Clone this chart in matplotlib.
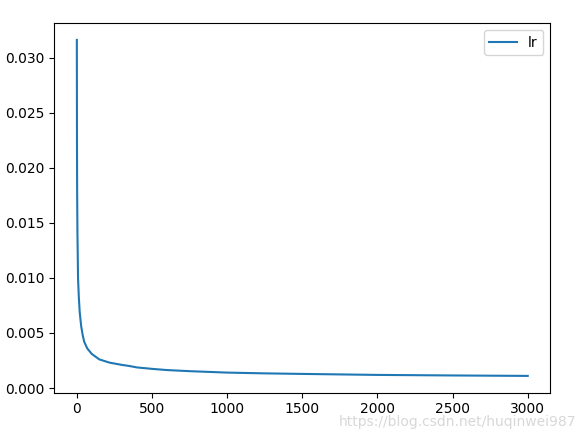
import matplotlib
matplotlib.use('Agg')
import matplotlib.pyplot as plt

# learning rate values (step, lr)
steps = [1, 2, 3, 5, 9, 14, 20, 30, 40, 50, 70, 100, 120, 150, 180, 220, 260, 300, 350,
         400, 500, 600, 750, 1000, 1250, 1500, 2000, 2500, 3000]
lr = [0.0316, 0.0224, 0.0180, 0.0141, 0.0100, 0.0083, 0.0069, 0.0056, 0.0048, 0.0042,
      0.0036, 0.0031, 0.0029, 0.0026, 0.00247, 0.0023, 0.0022, 0.0021, 0.0020,
      0.00187, 0.00174, 0.00163, 0.00153, 0.00140, 0.00133, 0.00128, 0.00119, 0.00114, 0.00110]

fig = plt.figure(figsize=(5.85, 4.4), dpi=100)
ax = fig.add_axes([0.0928, 0.1075, 0.8479, 0.84])
ax.plot(steps, lr, label='lr')
ax.legend(loc='upper right')

# watermark
fig.text(0.985, 0.025, 'https://blog.csdn.net/huqinwei987', ha='right', va='bottom',
         color='#d8d8d8', fontsize=10)

fig.savefig('out.png', dpi=100)
